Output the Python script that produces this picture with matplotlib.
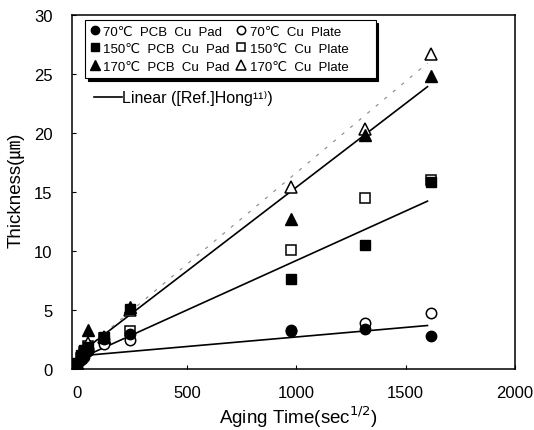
import matplotlib.pyplot as plt
from matplotlib.font_manager import FontProperties

plt.rcParams['font.family'] = ['Liberation Sans', 'DejaVu Sans', 'Noto Sans CJK KR']

# aging time, sqrt(sec)
t = [0, 15, 30, 50, 120, 240, 975, 1316, 1615]

pad70 = [0.3, 0.7, 1.0, 1.5, 2.5, 2.9, 3.3, 3.4, 2.8]
plate70 = [0.4, 0.8, 1.2, 1.6, 2.1, 2.4, 3.2, 3.9, 4.7]
pad150 = [0.5, 1.2, 1.6, 1.8, 2.7, 5.1, 7.6, 10.5, 15.8]
plate150 = [0.4, 0.9, 1.4, 1.9, 2.6, 3.2, 10.1, 14.5, 16.0]
pad170 = [0.5, 1.3, 1.7, 3.3, 2.7, 5.2, 12.7, 19.8, 24.8]
plate170 = [0.4, 1.0, 1.6, 2.2, 2.7, 5.0, 15.4, 20.3, 26.7]

# linear fits ([Ref.] Hong), end points
fit_x = [0, 1600]
fit70 = [1.07, 3.66]
fit150 = [0.77, 14.2]
fit170 = [1.16, 23.9]
fit_plate170 = [1.1, 25.9]

W, H = 534, 431
fig = plt.figure(figsize=(W / 100, H / 100), dpi=100)
ax = fig.add_axes([72 / W, 1 - 369.7 / H, (515 - 72) / W, (369.7 - 15.7) / H])

# fit lines
ax.plot(fit_x, fit_plate170, color='#888888', lw=0.8, ls=(0, (3, 7)), zorder=1)
lin, = ax.plot(fit_x, fit170, color='black', lw=1.2, zorder=2)
ax.plot(fit_x, fit150, color='black', lw=1.2, zorder=2)
ax.plot(fit_x, fit70, color='black', lw=1.2, zorder=2)

# open markers first, filled ones on top
op = dict(ls='none', mfc='white', mec='black', mew=1.1, zorder=3)
fp = dict(ls='none', color='black', zorder=4)
h_o70, = ax.plot(t, plate70, marker='o', ms=7.5, label='70\u2103  Cu  Plate      ', **op)
h_o150, = ax.plot(t, plate150, marker='s', ms=7.5, label='150\u2103  Cu  Plate      ', **op)
h_o170, = ax.plot(t, plate170, marker='^', ms=8.5, label='170\u2103  Cu  Plate      ', **op)
h_f70, = ax.plot(t, pad70, marker='o', ms=7.5, label='70\u2103  PCB  Cu  Pad', **fp)
h_f150, = ax.plot(t, pad150, marker='s', ms=7.5, label='150\u2103  PCB  Cu  Pad', **fp)
h_f170, = ax.plot(t, pad170, marker='^', ms=8.5, label='170\u2103  PCB  Cu  Pad', **fp)

ax.set_xlim(-25, 2000)
ax.set_ylim(0, 30)
ax.set_xticks([0, 500, 1000, 1500, 2000])
ax.set_yticks([0, 5, 10, 15, 20, 25, 30])
ax.tick_params(direction='in', length=3, width=0.8, labelsize=12)
ax.tick_params(axis='x', pad=12)
ax.tick_params(axis='y', pad=14)
for s in ax.spines.values():
    s.set_linewidth(1.1)

# legend with black drop shadow
lp = FontProperties(family=['Liberation Sans', 'DejaVu Sans'], size=9.5)
leg = ax.legend(handles=[h_f70, h_f150, h_f170, h_o70, h_o150, h_o170],
                ncol=2, prop=lp, loc='upper left', markerscale=0.8,
                bbox_to_anchor=(85 / W, 1 - 21 / H), bbox_transform=fig.transFigure,
                frameon=True, fancybox=False, edgecolor='black', framealpha=1,
                shadow={'color': 'black', 'alpha': 1}, borderaxespad=0,
                handlelength=0.7, handletextpad=0.3, columnspacing=0.5,
                labelspacing=0.4, borderpad=0.4)
leg.get_frame().set_linewidth(0.8)
ax.add_artist(leg)

lp2 = FontProperties(family=['Liberation Sans', 'DejaVu Sans'], size=11.5)
leg2 = ax.legend(handles=[lin], labels=['Linear ([Ref.]Hong\u00b9\u00b9\u207e)'],
                 prop=lp2, loc='center left',
                 bbox_to_anchor=(88 / W, 1 - 99 / H), bbox_transform=fig.transFigure,
                 frameon=False, borderaxespad=0, handlelength=1.7, handletextpad=0.05)

fig.text(298 / W, 1 - 417 / H, 'Aging Time(sec$^{1/2}$)', fontsize=13.5,
         ha='center', va='center')
fig.text(16 / W, 1 - 190 / H, 'Thickness(\u339b)', fontsize=13.5, rotation=90,
         ha='center', va='center',
         family=['Liberation Sans', 'Noto Sans CJK KR', 'DejaVu Sans'])

fig.savefig('out.png', dpi=100)
